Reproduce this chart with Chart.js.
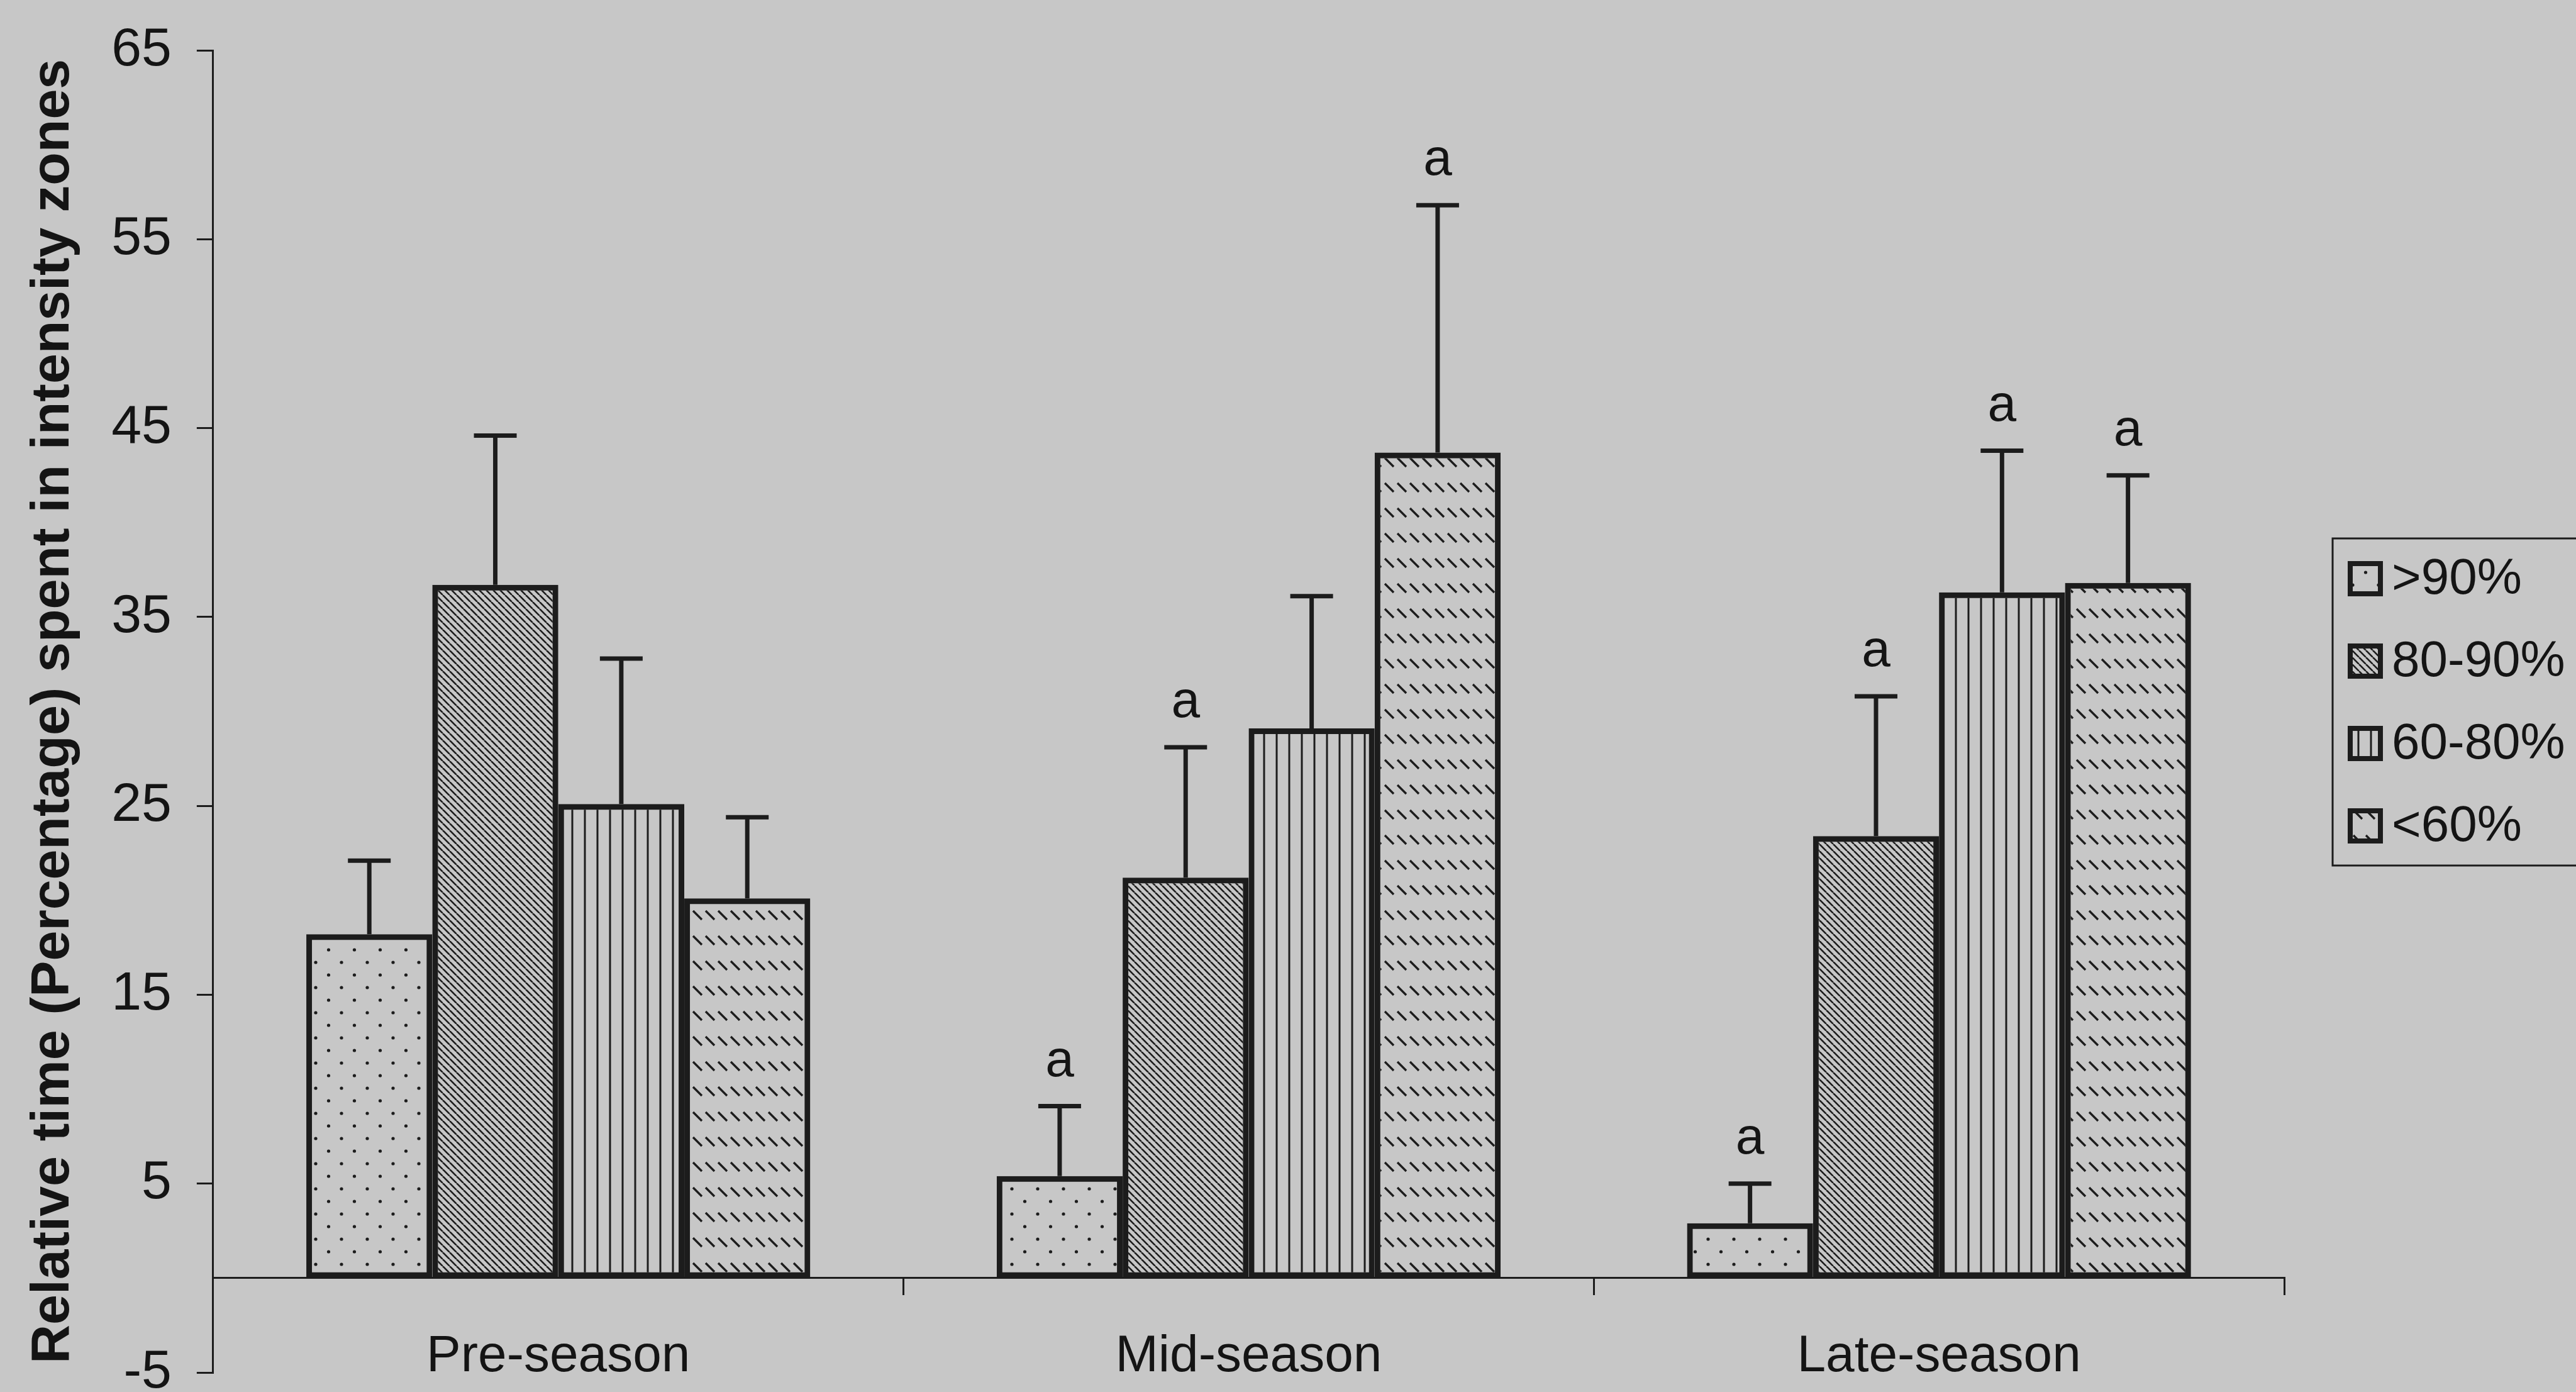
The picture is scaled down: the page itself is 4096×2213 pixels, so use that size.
<!DOCTYPE html>
<html>
<head>
<meta charset="utf-8">
<script src="https://cdn.jsdelivr.net/npm/chart.js@4.4.1/dist/chart.umd.min.js"></script>
<style>
  html, body { margin: 0; padding: 0; background: #c7c7c7; }
  #wrap { width: 4096px; height: 2213px; }
</style>
</head>
<body>
<div id="wrap"><canvas id="zoneChart"></canvas></div>
<script>
// Data (means, upper SD, significance marks)
var categories = ['Pre-season', 'Mid-season', 'Late-season'];
var zoneLabels = ['>90%', '80-90%', '60-80%', '<60%'];

var above90 = [18.2, 5.4, 2.9];
var zone80to90 = [36.7, 21.2, 23.4];
var zone60to80 = [25.1, 29.1, 36.3];
var below60 = [20.1, 43.7, 36.8];

var above90Err = [3.9, 3.7, 2.1];
var zone80to90Err = [7.9, 6.9, 7.4];
var zone60to80Err = [7.7, 7.0, 7.5];
var below60Err = [4.3, 13.1, 5.7];

var above90Sig = ['', 'a', 'a'];
var zone80to90Sig = ['', 'a', 'a'];
var zone60to80Sig = ['', '', 'a'];
var below60Sig = ['', 'a', 'a'];

var yTicks = [-5, 5, 15, 25, 35, 45, 55, 65];

var ink = '#1c1c1c';
Chart.defaults.font.family = "'Liberation Sans', Arial, sans-serif";
Chart.defaults.color = '#141414';

// fill patterns like the old Excel hatches
function makePattern(w, h, draw) {
  var c = document.createElement('canvas');
  c.width = w;
  c.height = h;
  var g = c.getContext('2d');
  g.strokeStyle = ink;
  g.fillStyle = ink;
  draw(g, w, h);
  return document.getElementById('zoneChart').getContext('2d').createPattern(c, 'repeat');
}

var dotsPattern = makePattern(41, 40, function (g) {
  g.beginPath(); g.arc(10, 10, 2.6, 0, Math.PI * 2); g.fill();
  g.beginPath(); g.arc(30.5, 30, 2.6, 0, Math.PI * 2); g.fill();
});
var diagPattern = makePattern(11, 11, function (g, w, h) {
  g.lineWidth = 2.6;
  for (var k = -1; k <= 1; k++) {
    g.beginPath(); g.moveTo(k * w, 0); g.lineTo(k * w + w, h); g.stroke();
  }
});
var vertPattern = makePattern(20, 20, function (g) {
  g.fillRect(8.5, 0, 3, 20);
});
var dashPattern = makePattern(20, 40, function (g) {
  g.lineWidth = 3.4;
  g.beginPath(); g.moveTo(2, 8); g.lineTo(16, 22); g.stroke();
});

var seriesValues = [above90, zone80to90, zone60to80, below60];
var seriesErr = [above90Err, zone80to90Err, zone60to80Err, below60Err];
var seriesSig = [above90Sig, zone80to90Sig, zone60to80Sig, below60Sig];
var seriesFill = [dotsPattern, diagPattern, vertPattern, dashPattern];

var datasets = zoneLabels.map(function (label, i) {
  return {
    label: label,
    data: seriesValues[i],
    errors: seriesErr[i],
    marks: seriesSig[i],
    backgroundColor: seriesFill[i],
    borderColor: ink,
    borderWidth: 9,
    borderSkipped: false,
    categoryPercentage: 0.73,
    barPercentage: 1.0
  };
});

// page background
var paper = {
  id: 'paper',
  beforeDraw: function (chart) {
    var ctx = chart.ctx;
    ctx.save();
    ctx.fillStyle = '#c7c7c7';
    ctx.fillRect(0, 0, chart.width, chart.height);
    ctx.restore();
  }
};

// upper error bars and the "a" marks
var errorBars = {
  id: 'errorBars',
  afterDatasetsDraw: function (chart) {
    var ctx = chart.ctx;
    var yScale = chart.scales.y;
    ctx.save();
    ctx.strokeStyle = ink;
    ctx.lineWidth = 7;
    ctx.fillStyle = '#141414';
    ctx.font = "82px 'Liberation Sans', Arial, sans-serif";
    ctx.textAlign = 'center';
    ctx.textBaseline = 'alphabetic';
    chart.data.datasets.forEach(function (ds, i) {
      var meta = chart.getDatasetMeta(i);
      meta.data.forEach(function (bar, j) {
        var top = yScale.getPixelForValue(ds.data[j] + ds.errors[j]);
        ctx.beginPath();
        ctx.moveTo(bar.x, bar.y);
        ctx.lineTo(bar.x, top);
        ctx.moveTo(bar.x - 34, top);
        ctx.lineTo(bar.x + 34, top);
        ctx.stroke();
        if (ds.marks[j]) {
          ctx.fillText(ds.marks[j], bar.x, top - 48);
        }
      });
    });
    ctx.restore();
  }
};

// framed legend at the right, partly outside the picture like the scan
var framedLegend = {
  id: 'framedLegend',
  afterDraw: function (chart) {
    var ctx = chart.ctx;
    var left = chart.chartArea.right + 77;
    var top = 856;
    var rowH = 131;
    var box = 56;
    ctx.save();
    ctx.strokeStyle = ink;
    ctx.lineWidth = 3;
    ctx.strokeRect(left, top, chart.width - left + 20, 520);
    ctx.font = "80px 'Liberation Sans', Arial, sans-serif";
    ctx.textBaseline = 'middle';
    ctx.textAlign = 'left';
    chart.data.datasets.forEach(function (ds, i) {
      var cy = top + 64 + i * rowH;
      var bx = left + 24;
      ctx.fillStyle = ds.backgroundColor;
      ctx.fillRect(bx, cy - box / 2, box, box);
      ctx.lineWidth = 8;
      ctx.strokeStyle = ink;
      ctx.strokeRect(bx + 4, cy - box / 2 + 4, box - 8, box - 8);
      ctx.fillStyle = '#141414';
      ctx.fillText(ds.label, bx + box + 14, cy + 2);
    });
    ctx.restore();
  }
};

var ctx = document.getElementById('zoneChart').getContext('2d');

var zoneChart = new Chart(ctx, {
  type: 'bar',
  data: {
    labels: categories,
    datasets: datasets
  },
  options: {
    responsive: true,
    maintainAspectRatio: false,
    animation: false,
    devicePixelRatio: 1,
    layout: {
      padding: { top: 80, bottom: 31, left: 4, right: 464 }
    },
    plugins: {
      legend: { display: false },
      tooltip: { enabled: false }
    },
    scales: {
      x: {
        position: { y: 0 },
        border: { display: true, color: ink, width: 3 },
        grid: { drawOnChartArea: false, drawTicks: true, tickLength: 26, color: ink, lineWidth: 3, offset: true },
        ticks: { color: '#141414', font: { size: 82 }, padding: 50 }
      },
      y: {
        min: -5,
        max: 65,
        afterBuildTicks: function (scale) {
          scale.ticks = yTicks.map(function (v) { return { value: v }; });
        },
        afterFit: function (scale) {
          scale.paddingTop = 0;
          scale.paddingBottom = 0;
        },
        border: { display: true, color: ink, width: 3 },
        grid: { drawOnChartArea: false, drawTicks: true, tickLength: 26, color: ink, lineWidth: 3 },
        ticks: { color: '#141414', font: { size: 86 }, padding: 40 },
        title: {
          display: true,
          text: 'Relative time (Percentage) spent in intensity zones',
          color: '#141414',
          font: { size: 86, weight: 'bold' },
          padding: { top: 30, bottom: 0 }
        }
      }
    }
  },
  plugins: [paper, errorBars, framedLegend]
});
</script>
</body>
</html>
